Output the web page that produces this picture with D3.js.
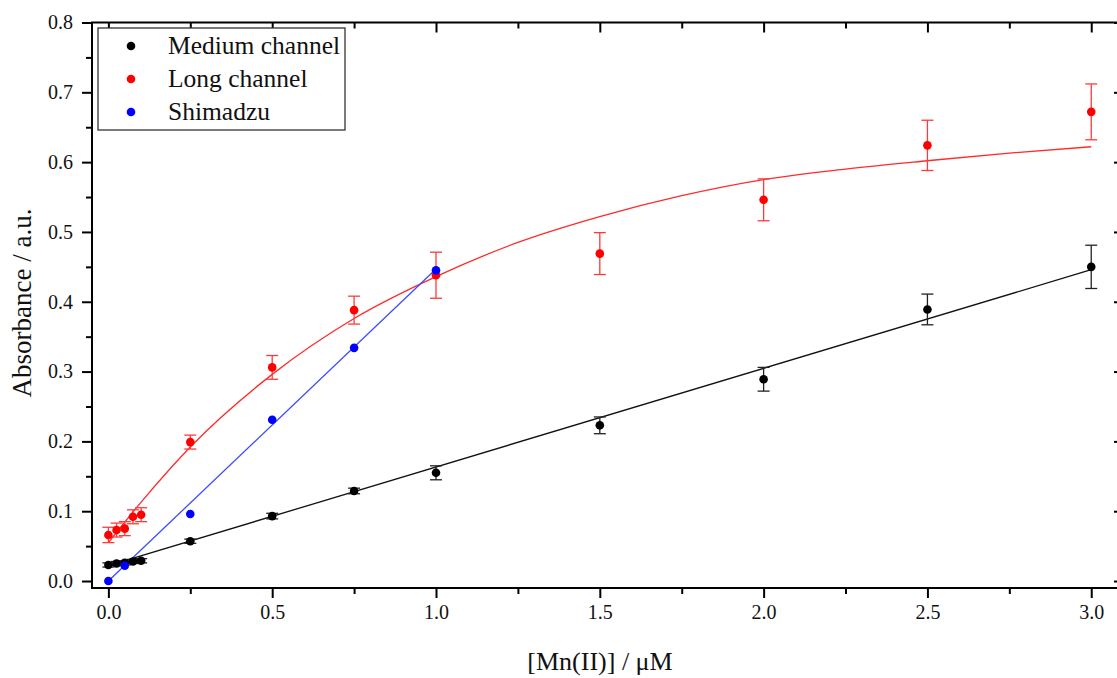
<!DOCTYPE html>
<html>
<head>
<meta charset="utf-8">
<script src="https://cdn.jsdelivr.net/npm/d3@7"></script>
<style>
  html, body { margin: 0; padding: 0; background: #fff; }
  svg { display: block; }
  text { font-family: "Liberation Serif", "DejaVu Serif", serif; fill: #111; }
</style>
</head>
<body>
<svg id="chart" width="1117" height="678"></svg>
<script>
// ---- data ----
const xLow = [0, 0.025, 0.05, 0.075, 0.1, 0.25, 0.5, 0.75, 1.0, 1.5, 2.0, 2.5, 3.0];

const mediumY   = [0.023, 0.025, 0.026, 0.028, 0.029, 0.057, 0.093, 0.129, 0.155, 0.223, 0.289, 0.389, 0.450];
const mediumErr = [0.003, 0.003, 0.003, 0.003, 0.003, 0.003, 0.004, 0.004, 0.010, 0.012, 0.017, 0.022, 0.031];

const longY   = [0.066, 0.073, 0.075, 0.092, 0.095, 0.199, 0.306, 0.388, 0.438, 0.469, 0.546, 0.624, 0.672];
const longErr = [0.011, 0.010, 0.010, 0.010, 0.010, 0.010, 0.017, 0.020, 0.033, 0.030, 0.030, 0.036, 0.040];

const shimX = [0, 0.05, 0.25, 0.5, 0.75, 1.0];
const shimY = [0.000, 0.022, 0.096, 0.231, 0.334, 0.445];

// fit lines
const mediumFitX = [0, 3.0];
const mediumFitY = [0.022, 0.446];
const longFitX = [0, 0.1, 0.25, 0.5, 0.75, 1.0, 1.25, 1.5, 1.75, 2.0, 2.25, 2.5, 2.75, 3.0];
const longFitY = [0.055, 0.113, 0.192, 0.296, 0.376, 0.436, 0.485, 0.522, 0.552, 0.575, 0.590, 0.602, 0.613, 0.622];
const shimFitX = [0, 1.0];
const shimFitY = [0.000, 0.447];

const xTicks = [0, 0.5, 1.0, 1.5, 2.0, 2.5, 3.0];
const xMinor = [0.25, 0.75, 1.25, 1.75, 2.25, 2.75];
const yTicks = [0, 0.1, 0.2, 0.3, 0.4, 0.5, 0.6, 0.7, 0.8];
const yMinor = [0.05, 0.15, 0.25, 0.35, 0.45, 0.55, 0.65, 0.75];

const legendLabels = ["Medium channel", "Long channel", "Shimadzu"];
const xTitle = "[Mn(II)] / \u03bcM";
const yTitle = "Absorbance / a.u.";

// ---- layout ----
const L = 92, R = 1124, T = 22.5, B = 588;
const svg = d3.select("#chart");
const x = d3.scaleLinear().domain([-0.05, 3.1]).range([L, R]);
const y = d3.scaleLinear().domain([-0.01, 0.8]).range([B, T]);

const colors = { medium: "#000000", long: "#ff0000", shim: "#0000ff" };
const errColors = { medium: "#222222", long: "#ff3a3a" };
const lineColors = { medium: "#111111", long: "#ff2a2a", shim: "#3a4cff" };
const serif = "'Liberation Serif', 'DejaVu Serif', serif";

// frame
svg.append("rect").attr("x", L).attr("y", T).attr("width", R - L).attr("height", B - T)
  .attr("fill", "none").attr("stroke", "#000").attr("stroke-width", 2);

const fmt = d3.format(".1f");
// bottom axis (outward)
svg.append("g").attr("transform", `translate(0,${B})`)
  .call(d3.axisBottom(x).tickValues(xTicks).tickFormat(fmt).tickSize(10).tickPadding(7));
svg.append("g").attr("transform", `translate(0,${B})`)
  .call(d3.axisBottom(x).tickValues(xMinor).tickFormat("").tickSize(6));
// left axis (outward)
svg.append("g").attr("transform", `translate(${L},0)`)
  .call(d3.axisLeft(y).tickValues(yTicks).tickFormat(fmt).tickSize(10).tickPadding(9));
svg.append("g").attr("transform", `translate(${L},0)`)
  .call(d3.axisLeft(y).tickValues(yMinor).tickFormat("").tickSize(6));
// top axis (inward)
svg.append("g").attr("transform", `translate(0,${T})`)
  .call(d3.axisTop(x).tickValues(xTicks).tickFormat("").tickSize(-10));
svg.append("g").attr("transform", `translate(0,${T})`)
  .call(d3.axisTop(x).tickValues(xMinor).tickFormat("").tickSize(-6));
// right axis (inward)
svg.append("g").attr("transform", `translate(${R},0)`)
  .call(d3.axisRight(y).tickValues(yTicks).tickFormat("").tickSize(-10));
svg.append("g").attr("transform", `translate(${R},0)`)
  .call(d3.axisRight(y).tickValues(yMinor).tickFormat("").tickSize(-6));

svg.selectAll(".domain").remove();
svg.selectAll(".tick line").attr("stroke", "#000").attr("stroke-width", 2);
svg.selectAll(".tick text").attr("font-size", 20).attr("font-family", serif).attr("fill", "#222");

// titles
svg.append("text").attr("x", 600).attr("y", 670).attr("text-anchor", "middle")
  .attr("font-family", serif).attr("font-size", 26).attr("fill", "#222").text(xTitle);
svg.append("text").attr("transform", `translate(31,303) rotate(-90)`).attr("text-anchor", "middle")
  .attr("font-family", serif).attr("font-size", 27).attr("fill", "#222").text(yTitle);

// fit lines
const line = d3.line().x(d => x(d[0])).y(d => y(d[1]));
const lineCurve = d3.line().x(d => x(d[0])).y(d => y(d[1])).curve(d3.curveMonotoneX);
svg.append("path").datum(d3.zip(mediumFitX, mediumFitY)).attr("d", line)
  .attr("fill", "none").attr("stroke", lineColors.medium).attr("stroke-width", 1.3);
svg.append("path").datum(d3.zip(longFitX, longFitY)).attr("d", lineCurve)
  .attr("fill", "none").attr("stroke", lineColors.long).attr("stroke-width", 1.3);
svg.append("path").datum(d3.zip(shimFitX, shimFitY)).attr("d", line)
  .attr("fill", "none").attr("stroke", lineColors.shim).attr("stroke-width", 1.3);

// error bars + points
function drawSeries(xs, ys, errs, key) {
  const data = xs.map((xv, i) => ({ x: xv, y: ys[i], e: errs ? errs[i] : 0 }));
  const g = svg.append("g");
  if (errs) {
    const eb = g.selectAll("g.eb").data(data).enter().append("g")
      .attr("stroke", errColors[key]).attr("stroke-width", 1.3);
    eb.append("line").attr("x1", d => x(d.x)).attr("x2", d => x(d.x))
      .attr("y1", d => y(d.y - d.e)).attr("y2", d => y(d.y + d.e));
    eb.append("line").attr("x1", d => x(d.x) - 6).attr("x2", d => x(d.x) + 6)
      .attr("y1", d => y(d.y + d.e)).attr("y2", d => y(d.y + d.e));
    eb.append("line").attr("x1", d => x(d.x) - 6).attr("x2", d => x(d.x) + 6)
      .attr("y1", d => y(d.y - d.e)).attr("y2", d => y(d.y - d.e));
  }
  g.selectAll("circle").data(data).enter().append("circle")
    .attr("cx", d => x(d.x)).attr("cy", d => y(d.y)).attr("r", 4.3)
    .attr("fill", colors[key]);
}
drawSeries(xLow, longY, longErr, "long");
drawSeries(xLow, mediumY, mediumErr, "medium");
drawSeries(shimX, shimY, null, "shim");

// legend
const lg = svg.append("g");
lg.append("rect").attr("x", 98).attr("y", 28).attr("width", 247).attr("height", 102)
  .attr("fill", "#fff").attr("stroke", "#333").attr("stroke-width", 1.3);
const keys = ["medium", "long", "shim"];
legendLabels.forEach((lab, i) => {
  const cy = 46 + i * 33;
  lg.append("circle").attr("cx", 131).attr("cy", cy).attr("r", 4.3).attr("fill", colors[keys[i]]);
  lg.append("text").attr("x", 168).attr("y", cy + 8).attr("font-family", serif)
    .attr("font-size", 25.5).attr("fill", "#222").text(lab);
});
</script>
</body>
</html>
